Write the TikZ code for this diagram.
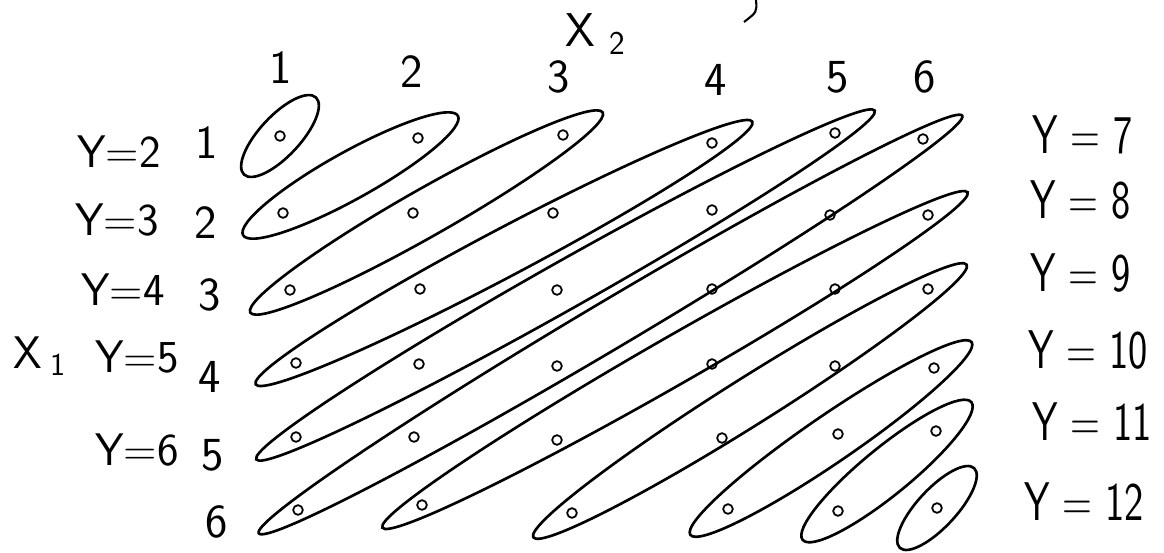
\documentclass[tikz,border=0pt]{standalone}
\usetikzlibrary{shapes,calc,positioning}

\begin{document}
\begin{tikzpicture}[x=0.02cm,y=-0.02cm,
  pt/.style={draw,circle,inner sep=0pt,minimum size=5.5pt,line width=1pt},
  grp/.style={draw,ellipse,inner sep=0pt,line width=1.5pt},
  num/.style={font=\sffamily\fontsize{27}{30}\selectfont,inner sep=0pt},
  lbl/.style={font=\sffamily\fontsize{26}{30}\selectfont,inner sep=0pt},
  big/.style={font=\sffamily\fontsize{31}{34}\selectfont,inner sep=0pt,anchor=west}
]
\useasboundingbox (0,0) rectangle (1164,552);

% outcome grid, one row of X1 at a time
\foreach \r/\row in {
  1/{280/136,418/138,563/135,712/143,835/133,923/139},
  2/{283/213,413/213,553/213,712/210,830/215,928/215},
  3/{290/290,420/289,557/290,712/289,835/289,928/289},
  4/{296/363,419/364,557/366,712/364,835/366,934/368},
  5/{296/437,414/437,557/440,722/438,838/434,936/431},
  6/{298/510,422/505,572/513,728/509,838/511,937/508}}
  \foreach \px/\py [count=\c] in \row
    \node[pt] (d-\r-\c) at (\px,\py) {};

% axis labels
\node[num] (x2) at (596,34) {X\hspace{0.3em}\textsubscript{2}};
\node[lbl] (x1) at (40,356) {X\,\textsubscript{1}};
\foreach \c/\px/\py in {1/281/68,2/412/72,3/559/77,4/716/80,5/838/77,6/925/77}
  \node[num] (col\c) at (\px,\py) {\c};
\foreach \r/\px/\py in {1/207/143,2/206/223,3/210/295,4/210/377,5/213/455,6/217/522}
  \node[num] (row\r) at (\px,\py) {\r};

% sums Y = X1 + X2
\node[grp,rotate=47,minimum width=60pt,minimum height=23pt] (e2) at (d-1-1) {};
\node[grp,rotate=47,minimum width=62pt,minimum height=22pt] (e12) at (d-6-6) {};
\foreach \Y in {3,...,11}{
  \pgfmathtruncatemacro\rA{min(6,\Y-1)}
  \pgfmathtruncatemacro\rB{max(1,\Y-6)}
  \pgfmathtruncatemacro\cA{\Y-\rA}
  \pgfmathtruncatemacro\cB{\Y-\rB}
  \path let \p1=(d-\rA-\cA), \p2=(d-\rB-\cB),
    \n1={atan2(\y2-\y1,\x2-\x1)}, \n2={veclen(\x2-\x1,\y2-\y1)} in
    ($(d-\rA-\cA)!0.5!(d-\rB-\cB)$)
    node[grp,rotate=\n1,minimum width={\n2+52pt},minimum height=27pt] (e\Y) {};
}

% left: sums starting in column 1
\foreach \Y/\px/\py in {2/119/152,3/117/220,4/123/290,5/137/357,6/137/450}
  \node[lbl] (ly\Y) at (\px,\py) {Y=\Y};
% right: sums ending in column 6
\foreach \Y/\px/\py in {7/1032/135,8/1030/200,9/1030/273,10/1028/350,11/1032/422,12/1024/502}
  \node[big] (ry\Y) at (\px,\py) {\scalebox{0.75}[1]{Y = \Y}};

% stray pen stroke at the top
\coordinate (s1) at (756,0);
\coordinate (s2) at (744,22);
\draw[line width=1.2pt] (s1) .. controls (757,12) .. (s2);
\end{tikzpicture}
\end{document}
